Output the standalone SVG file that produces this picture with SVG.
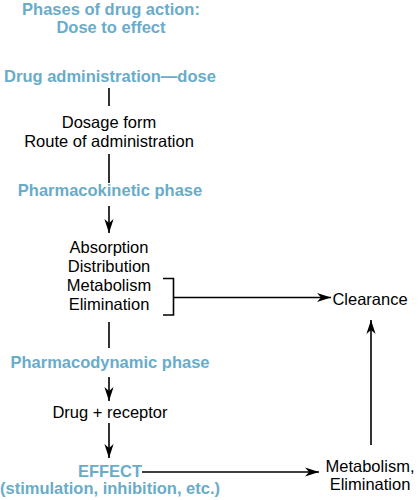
<svg xmlns="http://www.w3.org/2000/svg" width="420" height="500" viewBox="0 0 420 500">
<style>
text{font-family:"Liberation Sans",Arial,sans-serif;font-size:16.5px;text-anchor:middle}
.h{fill:#69acc9;font-weight:bold}
.b{fill:#000}
.ln{stroke:#000;stroke-width:1.6;fill:none}
</style>
<defs>
<marker id="ah" markerUnits="userSpaceOnUse" viewBox="-15 -6 16 12" refX="0" refY="0" markerWidth="16" markerHeight="12" orient="auto">
<path d="M0,0 L-14,-4.6 L-10,0 L-14,4.6 Z" fill="#000"/>
</marker>
</defs>
<rect width="420" height="500" fill="#fff"/>
<g id="title">
<text class="h" x="111" y="15">Phases of drug action:</text>
<text class="h" x="111" y="33">Dose to effect</text>
</g>
<g id="admin"><text class="h" x="110" y="82">Drug administration—dose</text></g>
<g id="dosage">
<text class="b" x="109" y="128">Dosage form</text>
<text class="b" x="109" y="147">Route of administration</text>
</g>
<g id="pk"><text class="h" x="110" y="196">Pharmacokinetic phase</text></g>
<g id="adme">
<text class="b" x="109" y="253">Absorption</text>
<text class="b" x="109" y="272">Distribution</text>
<text class="b" x="109" y="291">Metabolism</text>
<text class="b" x="109" y="310">Elimination</text>
</g>
<g id="clearance"><text class="b" x="370" y="305">Clearance</text></g>
<g id="pd"><text class="h" x="110" y="368">Pharmacodynamic phase</text></g>
<g id="receptor"><text class="b" x="110" y="418">Drug + receptor</text></g>
<g id="effect">
<text class="h" x="110" y="477">EFFECT</text>
<text class="h" x="110" y="494">(stimulation, inhibition, etc.)</text>
</g>
<g id="metab">
<text class="b" x="370" y="472">Metabolism,</text>
<text class="b" x="370" y="490">Elimination</text>
</g>
<g id="connectors">
<line class="ln" x1="109" y1="88" x2="109" y2="106"/>
<line class="ln" x1="109" y1="154" x2="109" y2="183"/>
<line class="ln" x1="109" y1="206" x2="109" y2="233" marker-end="url(#ah)"/>
<polyline class="ln" points="163,278.5 173.5,278.5 173.5,315 163,315"/>
<line class="ln" x1="173.5" y1="297.5" x2="331" y2="297.5" marker-end="url(#ah)"/>
<line class="ln" x1="109" y1="322" x2="109" y2="348"/>
<line class="ln" x1="109" y1="377" x2="109" y2="401" marker-end="url(#ah)"/>
<line class="ln" x1="109" y1="423" x2="109" y2="458" marker-end="url(#ah)"/>
<line class="ln" x1="142" y1="472" x2="319" y2="472" marker-end="url(#ah)"/>
<line class="ln" x1="371" y1="445" x2="371" y2="320" marker-end="url(#ah)"/>
</g>
</svg>
